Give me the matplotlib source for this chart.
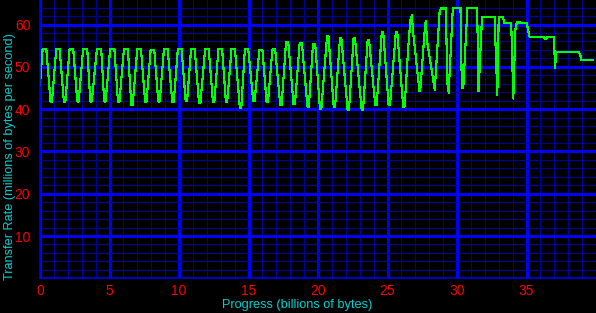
import numpy as np
import matplotlib
matplotlib.use("Agg")
from matplotlib import pyplot as plt
from matplotlib.ticker import MultipleLocator

# flat tops of the oscillating part: start x, end x, value (MB/s)
peak_x0 = [0.19, 1.17, 2.13, 3.10, 4.10, 5.05, 6.04, 7.00, 7.96, 8.92, 9.92, 10.87, 11.88,
           12.84, 13.78, 14.74, 15.78, 16.72, 17.70, 18.68, 19.64, 20.65, 21.58, 22.56,
           23.57, 24.59, 25.60]
peak_x1 = [0.45, 1.41, 2.39, 3.40, 4.40, 5.35, 6.32, 7.26, 8.22, 9.18, 10.18, 11.13, 12.14,
           13.10, 14.02, 14.98, 16.00, 16.92, 17.86, 18.84, 19.80, 20.75, 21.68, 22.66,
           23.67, 24.69, 25.70]
peak_y = [54.3, 54.3, 54.3, 54.2, 54.3, 54.3, 54.3, 54.3, 54.0, 54.3, 54.3, 54.2, 54.2,
          54.3, 54.3, 54.3, 54.0, 54.1, 55.8, 55.6, 55.4, 57.3, 56.7, 56.7, 56.3, 58.2, 58.2]

# flat bottoms: start x, end x, value
trough_x0 = [0.76, 1.72, 2.68, 3.62, 4.62, 5.61, 6.57, 7.56, 8.51, 9.52, 10.48, 11.44, 12.44,
             13.37, 14.38, 15.34, 16.30, 17.28, 18.24, 19.24, 20.14, 21.13, 22.13, 23.14,
             24.12, 25.08, 26.13]
trough_x1 = [0.86, 1.82, 2.78, 3.72, 4.72, 5.71, 6.67, 7.66, 8.61, 9.62, 10.58, 11.54, 12.54,
             13.47, 14.48, 15.44, 16.40, 17.38, 18.34, 19.34, 20.24, 21.23, 22.23, 23.24,
             24.22, 25.18, 26.23]
trough_y = [41.8, 41.6, 41.8, 41.8, 41.8, 41.7, 41.0, 41.8, 41.8, 41.6, 41.9, 41.5, 41.6,
            41.8, 40.3, 41.9, 41.7, 41.0, 41.2, 40.6, 40.1, 40.6, 39.8, 39.9, 41.0, 41.0, 40.6]

# last part of the run, read point by point
tail_x = [26.5, 26.65, 26.75, 26.85, 27.3, 27.35, 27.65, 27.75, 27.85, 28.4, 28.75, 28.85,
          29.2, 29.3, 29.4, 29.7, 30.25, 30.35, 30.45, 30.75, 31.45, 31.55, 31.8, 32.7,
          32.9, 33.0, 33.3, 33.4, 33.9, 34.05, 34.2, 34.3, 35.0, 35.1, 35.22, 36.25,
          36.35, 36.5, 36.95, 37.0, 37.05, 37.15, 38.77, 38.9, 38.96, 39.8]
tail_y = [55.0, 61.0, 62.2, 58.0, 44.2, 44.2, 57.5, 60.8, 56.0, 44.6, 63.0, 63.8,
          63.8, 46.2, 43.9, 63.9, 63.9, 44.9, 45.0, 63.9, 63.9, 44.2, 61.8, 61.8,
          43.4, 61.8, 61.8, 60.4, 60.4, 42.5, 58.8, 60.5, 60.4, 59.0, 57.1, 57.1,
          56.5, 57.1, 57.0, 54.9, 49.8, 53.6, 53.6, 52.4, 51.6, 51.6]

start_x, start_y = 0.0, 45.8

xs = [start_x]
ys = [start_y]
for a, b, p, c, d, t in zip(peak_x0, peak_x1, peak_y, trough_x0, trough_x1, trough_y):
    xs += [a, b, c, d]
    ys += [p, p, t, t]
xs += tail_x
ys += tail_y

plt.rcParams['font.family'] = ['Liberation Sans Narrow', 'Liberation Sans', 'DejaVu Sans']

fig = plt.figure(figsize=(5.96, 3.13), dpi=100, facecolor='black')
ax = fig.add_axes([40/596, 34.7/313, 556/596, 278.3/313], facecolor='black')

ax.set_xlim(0, 40)
ax.set_ylim(0, 65.8)

ax.xaxis.set_major_locator(MultipleLocator(5))
ax.xaxis.set_minor_locator(MultipleLocator(1))
ax.yaxis.set_major_locator(MultipleLocator(10))
ax.yaxis.set_minor_locator(MultipleLocator(2))

ax.grid(which='minor', color='#00009c', lw=0.72, antialiased=False)
ax.grid(which='major', color='#0000ff', lw=0.9, antialiased=False)
ax.set_axisbelow(True)

ax.plot(xs, ys, color='#00ff00', lw=0.8, antialiased=False)

for s in ['top', 'right']:
    ax.spines[s].set_visible(False)
for s in ['left', 'bottom']:
    ax.spines[s].set_color('#0000ff')
    ax.spines[s].set_linewidth(1.1)

ax.tick_params(which='both', length=0, colors='#ff0000', labelsize=10)
ax.tick_params(axis='x', pad=4)
ax.tick_params(axis='y', pad=7)
ax.set_yticks([10, 20, 30, 40, 50, 60])
ax.set_xticks([0, 5, 10, 15, 20, 25, 30, 35])

fig.text(0.498, 0.025, 'Progress (billions of bytes)', color='#00d0d0',
         ha='center', va='center', fontsize=9.2)
fig.text(0.016, 0.5, 'Transfer Rate (millions of bytes per second)', color='#00d0d0',
         ha='center', va='center', rotation=90, fontsize=9.2)

fig.savefig('out.png', dpi=100, facecolor='black')
